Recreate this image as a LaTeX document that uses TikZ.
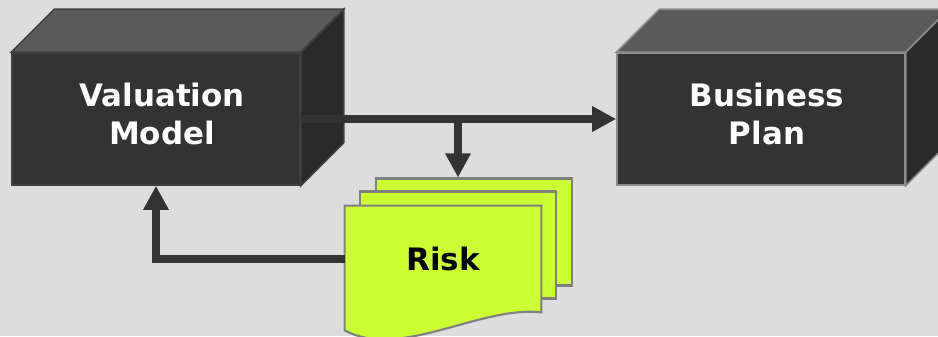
\documentclass[tikz,border=0pt]{standalone}
\usepackage{fontspec}
\setmainfont{DejaVu Sans}
\usepackage{tikz}
\usetikzlibrary{calc,arrows.meta}
\definecolor{bggray}{HTML}{DDDDDD}
\definecolor{facefront}{HTML}{333333}
\definecolor{facetop}{HTML}{5A5A5A}
\definecolor{faceside}{HTML}{2A2A2A}
\definecolor{riskgreen}{HTML}{CCFF33}

\begin{document}
\begin{tikzpicture}[x=0.02cm,y=-0.02cm]
       \tikzstyle{front} = [rectangle, fill=facefront, line width=0.9pt, minimum width=5.76cm, minimum height=2.64cm, inner sep=0pt];
       \tikzstyle{boxtext} = [text=white, align=center, font=\bfseries\fontsize{17.6pt}{21.6pt}\selectfont];
       \tikzstyle{sheet} = [rectangle, draw=black!50, fill=riskgreen, line width=1.2pt, minimum width=3.92cm, minimum height=2.14cm, inner sep=0pt];
       \tikzstyle{flow} = [draw=facefront, line width=4.6pt, -{Triangle[length=13.7pt,width=13.7pt]}];
       \clip (0,0) rectangle (938,336);
       \fill[bggray] (0,0) rectangle (938,336);

       % the two blocks
       \node[front, draw=black!75] (val) at (156,119) {};
       \fill[facetop, draw=black!75, line width=0.9pt] (val.north west) -- ++(43,-43) -- ($(val.north east)+(43,-43)$) -- (val.north east) -- cycle;
       \fill[faceside, draw=black!75, line width=0.9pt] (val.north east) -- ++(43,-43) -- ($(val.south east)+(43,-43)$) -- (val.south east) -- cycle;
       \node[boxtext] (valtext) at ($(val)+(6,-5)$) {Valuation\\Model};

       \node[front, draw=black!45] (plan) at (761,119) {};
       \fill[facetop, draw=black!45, line width=0.9pt] (plan.north west) -- ++(43,-43) -- ($(plan.north east)+(43,-43)$) -- (plan.north east) -- cycle;
       \fill[faceside, draw=black!45, line width=0.9pt] (plan.north east) -- ++(43,-43) -- ($(plan.south east)+(43,-43)$) -- (plan.south east) -- cycle;
       \node[boxtext] (plantext) at ($(plan)+(6,-5)$) {Business\\Plan};

       % the stack of risk sheets
       \node[sheet] (risk3) at (474,232) {};
       \node[sheet] (risk2) at ($(risk3)+(-16,13)$) {};
       \node[rectangle, minimum width=3.92cm, minimum height=2.12cm, inner sep=0pt] (risk) at (443,259) {};
       \filldraw[draw=black!50, fill=riskgreen, line width=1.2pt] (risk.north west) -- (risk.north east) -- (risk.south east) .. controls +(-61,-7) and +(55,30) .. ($(risk.south west)+(0,18)$) -- cycle;
       \node[font=\bfseries\fontsize{17.6pt}{21.6pt}\selectfont] (risklabel) at (risk) {Risk};

       \draw[flow] (val.east) -- (plan.west);
       \draw[flow] (val.east -| risk2) -- (risk3.north -| risk2);
       \draw[flow] (risk.west) -| (val.south);
     \end{tikzpicture}
\end{document}
